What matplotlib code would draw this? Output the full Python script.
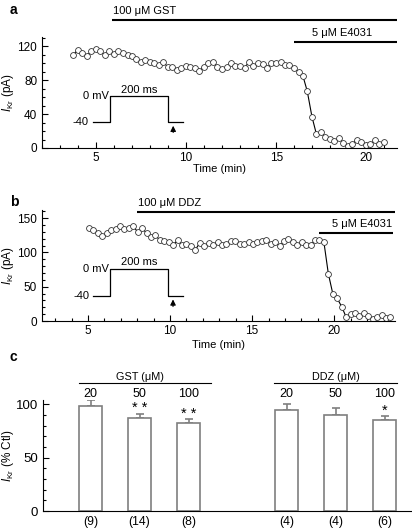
import matplotlib
matplotlib.use("Agg")
import matplotlib.pyplot as plt
from matplotlib.ticker import MultipleLocator

plt.rcParams['font.family'] = ['Liberation Sans', 'DejaVu Sans']
plt.rcParams['mathtext.fontset'] = 'custom'
plt.rcParams['mathtext.rm'] = 'Liberation Sans'
plt.rcParams['mathtext.it'] = 'Liberation Sans:italic'

# ---------------- data ----------------
time_a = [3.74, 3.98, 4.22, 4.48, 4.72, 5.0, 5.24, 5.48, 5.74, 6.0, 6.24, 6.5, 6.76, 7.0,
          7.24, 7.48, 7.74, 7.98, 8.22, 8.48, 8.72, 8.98, 9.22, 9.48, 9.72, 10.0, 10.24,
          10.48, 10.72, 10.98, 11.22, 11.48, 11.72, 11.98, 12.24, 12.48, 12.72, 12.98,
          13.24, 13.48, 13.72, 13.98, 14.24, 14.48, 14.72, 14.98, 15.24, 15.48, 15.72,
          15.98, 16.24, 16.48, 16.72, 16.98, 17.22, 17.48, 17.72, 17.98, 18.22, 18.48,
          18.72, 18.98, 19.22, 19.48, 19.72, 19.98, 20.22, 20.48, 20.72, 20.98]
ikr_a = [110, 116, 112, 109, 114, 117, 114, 110, 115, 111, 115, 112, 110, 108,
         105, 101, 104, 101, 100, 98, 101, 96, 96, 92, 94, 97, 96,
         94, 91, 96, 100, 102, 96, 93, 96, 100, 97, 97,
         95, 101, 97, 100, 99, 94, 100, 100, 102, 98, 98,
         94, 90, 85, 67, 37, 17, 19, 13, 11, 8, 12,
         6, 2, 5, 10, 7, 4, 5, 9, 5, 7]

time_b = [5.06, 5.33, 5.6, 5.87, 6.14, 6.41, 6.68, 6.95, 7.22, 7.49, 7.76, 8.03, 8.3,
          8.57, 8.84, 9.11, 9.38, 9.65, 9.92, 10.19, 10.46, 10.73, 11.0, 11.27, 11.54,
          11.81, 12.08, 12.35, 12.62, 12.89, 13.16, 13.43, 13.7, 13.97, 14.24, 14.51,
          14.78, 15.05, 15.32, 15.59, 15.86, 16.13, 16.4, 16.67, 16.94, 17.21, 17.48,
          17.75, 18.02, 18.29, 18.56, 18.83, 19.1, 19.37, 19.64, 19.91, 20.18, 20.45,
          20.72, 20.99, 21.26, 21.53, 21.8, 22.07, 22.34, 22.61, 22.88, 23.15, 23.42]
ikr_b = [136, 133, 128, 124, 128, 133, 135, 138, 135, 136, 138, 130, 136,
         128, 123, 125, 118, 117, 116, 111, 118, 111, 113, 109, 104,
         114, 109, 114, 111, 116, 111, 113, 117, 117, 112, 113,
         116, 113, 116, 117, 118, 113, 116, 109, 117, 120, 116,
         111, 116, 111, 111, 118, 118, 115, 69, 40, 33, 21,
         6, 10, 11, 7, 11, 8, 3, 6, 9, 5, 6]

# voltage protocol inset (data coordinates of each panel)
prot_a_x = [4.83, 5.78, 5.78, 9.0, 9.0, 9.83]
prot_a_y = [30.6, 30.6, 61.2, 61.2, 30.6, 30.6]
prot_b_x = [5.3, 6.34, 6.34, 9.88, 9.88, 10.79]
prot_b_y = [36.8, 36.8, 76.5, 76.5, 36.8, 36.8]

conc_labels = ["20", "50", "100", "20", "50", "100"]
bar_pos = [0, 1, 2, 4, 5, 6]
bar_vals = [98.0, 87.6, 82.5, 95.0, 90.4, 84.8]
bar_err = [5.7, 3.7, 4.0, 5.6, 6.0, 4.4]
stars = ["", "* *", "* *", "", "", "*"]
n_labels = ["(9)", "(14)", "(8)", "(4)", "(4)", "(6)"]

fig = plt.figure(figsize=(4.12, 5.29), dpi=100)
W, H = 412, 529

def ax_rect(l, t, r, b):
    return [l / W, 1 - b / H, (r - l) / W, (b - t) / H]

def style_ax(ax):
    for s in ["top", "right"]:
        ax.spines[s].set_visible(False)
    ax.tick_params(axis="both", which="both", direction="in", labelsize=8.5, width=0.8)
    ax.tick_params(axis="both", which="major", length=4)
    ax.tick_params(axis="both", which="minor", length=2)
    ax.tick_params(axis="x", pad=3)

def set_ylab(ax, text, xfrac):
    ax.set_ylabel(text, fontsize=8.5)
    ax.yaxis.set_label_coords(xfrac, 0.5)
    ax.yaxis.label.set_verticalalignment("baseline")

mk = dict(marker="o", ms=4.2, mfc="white", mec="#333333", mew=0.6, color="black", lw=0.8)
arrow_kw = dict(arrowstyle="-|>", color="black", lw=0.8, mutation_scale=8)

# ---------------- panel a ----------------
axa = fig.add_axes(ax_rect(42, 37, 397, 148))
style_ax(axa)
axa.plot(time_a, ikr_a, **mk)
axa.set_xlim(2, 21.7)
axa.set_ylim(0, 131)
axa.xaxis.set_major_locator(MultipleLocator(5))
axa.xaxis.set_minor_locator(MultipleLocator(1))
axa.yaxis.set_major_locator(MultipleLocator(40))
axa.yaxis.set_minor_locator(MultipleLocator(10))
axa.set_xlabel("Time (min)", fontsize=8, labelpad=0)
set_ylab(axa, r"$I_{\mathrm{Kr}}$ (pA)", -0.087)
axa.plot(prot_a_x, prot_a_y, color="black", lw=0.9)
axa.annotate("", xy=(9.28, 29.5), xytext=(9.28, 15), arrowprops=arrow_kw)
axa.text(4.6, 30.6, "-40", fontsize=8, ha="right", va="center")
axa.text(5.72, 61.2, "0 mV", fontsize=8, ha="right", va="center")
axa.text(7.4, 63, "200 ms", fontsize=8, ha="center", va="bottom")
axa.plot([5.9, 21.7], [150.6, 150.6], color="black", lw=1.5, clip_on=False, solid_capstyle="butt")
axa.text(5.95, 156, "100 \u03bcM GST", fontsize=8, ha="left", va="bottom", clip_on=False)
axa.plot([16.0, 21.7], [124.7, 124.7], color="black", lw=1.5, clip_on=False, solid_capstyle="butt")
axa.text(20.3, 130, "5 \u03bcM E4031", fontsize=8, ha="right", va="bottom", clip_on=False)
fig.text(10 / W, 1 - 10 / H, "a", fontsize=10, fontweight="bold", va="center", ha="left")

# ---------------- panel b ----------------
axb = fig.add_axes(ax_rect(42, 210, 395, 321))
style_ax(axb)
axb.plot(time_b, ikr_b, **mk)
axb.set_xlim(2.2, 23.7)
axb.set_ylim(0, 162)
axb.xaxis.set_major_locator(MultipleLocator(5))
axb.xaxis.set_minor_locator(MultipleLocator(1))
axb.yaxis.set_major_locator(MultipleLocator(50))
axb.yaxis.set_minor_locator(MultipleLocator(10))
axb.set_xlabel("Time (min)", fontsize=8, labelpad=2)
set_ylab(axb, r"$I_{\mathrm{Kr}}$ (pA)", -0.087)
axb.plot(prot_b_x, prot_b_y, color="black", lw=0.9)
axb.annotate("", xy=(10.18, 35.5), xytext=(10.18, 17), arrowprops=arrow_kw)
axb.text(5.1, 36.8, "-40", fontsize=8, ha="right", va="center")
axb.text(6.28, 76.5, "0 mV", fontsize=8, ha="right", va="center")
axb.text(8.1, 78.5, "200 ms", fontsize=8, ha="center", va="bottom")
axb.plot([8.0, 23.7], [159, 159], color="black", lw=1.5, clip_on=False, solid_capstyle="butt")
axb.text(8.05, 165, "100 \u03bcM DDZ", fontsize=8, ha="left", va="bottom", clip_on=False)
axb.plot([19.1, 23.6], [128, 128], color="black", lw=1.5, clip_on=False, solid_capstyle="butt")
axb.text(23.5, 134, "5 \u03bcM E4031", fontsize=8, ha="right", va="bottom", clip_on=False)
fig.text(10 / W, 1 - 202 / H, "b", fontsize=10, fontweight="bold", va="center", ha="left")

# ---------------- panel c ----------------
axc = fig.add_axes(ax_rect(43, 400, 412, 511))
for s in ["top", "right"]:
    axc.spines[s].set_visible(False)
axc.tick_params(axis="y", which="both", direction="in", labelsize=9.5, width=0.8)
axc.tick_params(axis="y", which="major", length=4)
axc.tick_params(axis="y", which="minor", length=2)
axc.tick_params(axis="x", length=0, labelbottom=False)
gray = "#7f7f7f"
axc.bar(bar_pos, bar_vals, width=0.475, color="white", edgecolor=gray, linewidth=1.2, zorder=2)
axc.errorbar(bar_pos, bar_vals, yerr=[[0] * len(bar_err), bar_err], fmt="none", ecolor=gray,
             elinewidth=1.2, capsize=3, capthick=1.2, zorder=1)
axc.set_xlim(-0.97, 6.56)
axc.set_ylim(0, 104)
axc.yaxis.set_major_locator(MultipleLocator(50))
axc.yaxis.set_minor_locator(MultipleLocator(10))
set_ylab(axc, r"$I_{\mathrm{Kr}}$ (% Ctl)", -0.087)
for x, v, e, c, st, n in zip(bar_pos, bar_vals, bar_err, conc_labels, stars, n_labels):
    axc.text(x, 106.5, c, fontsize=9, ha="center", va="baseline", clip_on=False)
    if st:
        axc.text(x, v + e + 1.0, st, fontsize=10.5, ha="center", va="baseline", clip_on=False)
    axc.text(x, -5.0, n, fontsize=8.8, ha="center", va="top", clip_on=False)
axc.plot([-0.24, 2.45], [119.8, 119.8], color="black", lw=0.8, clip_on=False)
axc.plot([3.75, 6.25], [119.8, 119.8], color="black", lw=0.8, clip_on=False)
axc.text(1.0, 123.0, "GST (\u03bcM)", fontsize=7.8, ha="center", va="baseline", clip_on=False)
axc.text(5.0, 123.0, "DDZ (\u03bcM)", fontsize=7.8, ha="center", va="baseline", clip_on=False)
fig.text(10 / W, 1 - 357 / H, "c", fontsize=10, fontweight="bold", va="center", ha="left")

fig.savefig("out.png", dpi=100)
